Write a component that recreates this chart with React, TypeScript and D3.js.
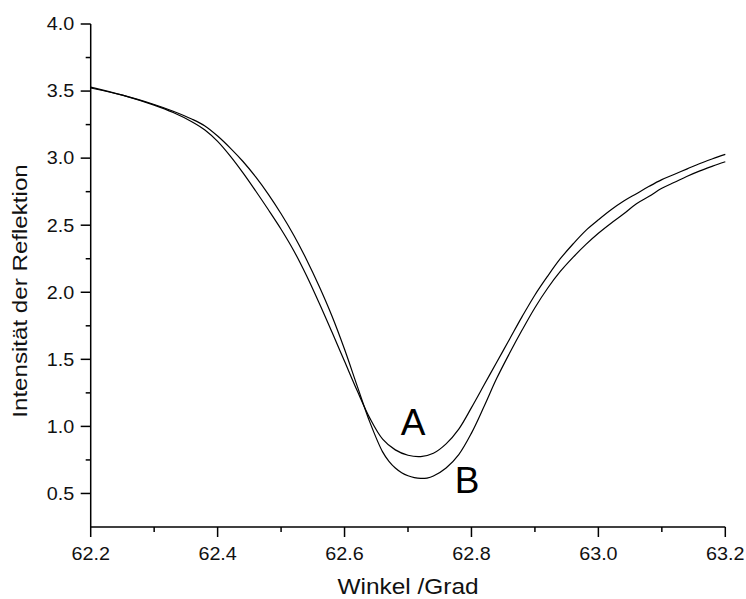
import React from "react";
import * as d3 from "d3";

const angleA = [62.2, 62.25, 62.3, 62.33, 62.36, 62.38, 62.4, 62.42, 62.44, 62.46, 62.48, 62.5, 62.52, 62.54, 62.56, 62.58, 62.6, 62.62, 62.64, 62.66, 62.68, 62.7, 62.72, 62.74, 62.76, 62.78, 62.8, 62.82, 62.84, 62.86, 62.88, 62.9, 62.92, 62.94, 62.96, 62.98, 63.0, 63.02, 63.04, 63.06, 63.08, 63.1, 63.12, 63.14, 63.16, 63.18, 63.2];
const intensityA = [3.53, 3.47, 3.395, 3.34, 3.27, 3.21, 3.125, 3.015, 2.89, 2.755, 2.615, 2.47, 2.31, 2.125, 1.92, 1.705, 1.485, 1.265, 1.06, 0.905, 0.825, 0.785, 0.775, 0.8, 0.87, 0.98, 1.14, 1.31, 1.48, 1.65, 1.82, 1.98, 2.12, 2.25, 2.36, 2.46, 2.54, 2.615, 2.68, 2.735, 2.79, 2.84, 2.88, 2.92, 2.96, 2.995, 3.028];

const angleB = [62.2, 62.25, 62.3, 62.33, 62.36, 62.38, 62.4, 62.42, 62.44, 62.46, 62.48, 62.5, 62.52, 62.54, 62.56, 62.58, 62.6, 62.62, 62.64, 62.66, 62.67, 62.68, 62.69, 62.7, 62.71, 62.72, 62.73, 62.74, 62.76, 62.78, 62.8, 62.82, 62.84, 62.86, 62.88, 62.9, 62.92, 62.94, 62.96, 62.98, 63.0, 63.02, 63.04, 63.06, 63.08, 63.1, 63.12, 63.14, 63.16, 63.18, 63.2];
const intensityB = [3.523, 3.47, 3.4, 3.35, 3.29, 3.24, 3.165, 3.075, 2.975, 2.86, 2.73, 2.585, 2.425, 2.245, 2.045, 1.825, 1.575, 1.3, 1.03, 0.81, 0.74, 0.69, 0.655, 0.632, 0.618, 0.612, 0.615, 0.63, 0.69, 0.79, 0.95, 1.15, 1.36, 1.545, 1.72, 1.885, 2.03, 2.155, 2.26, 2.355, 2.44, 2.515, 2.585, 2.66, 2.715, 2.775, 2.82, 2.865, 2.905, 2.94, 2.973];

const xMajorTicks = [62.2, 62.4, 62.6, 62.8, 63.0, 63.2];
const xMinorTicks = [62.3, 62.5, 62.7, 62.9, 63.1];
const yMajorTicks = [0.5, 1.0, 1.5, 2.0, 2.5, 3.0, 3.5, 4.0];
const yMinorTicks = [0.75, 1.25, 1.75, 2.25, 2.75, 3.25, 3.75];

const labels = [
  { text: "A", x: 62.708, y: 0.935 },
  { text: "B", x: 62.793, y: 0.5 },
];

const W = 746;
const H = 599;
const FONT = "'Liberation Sans', Arial, Helvetica, sans-serif";
const SX = 1.13;

export default function App() {
  const x = d3.scaleLinear().domain([62.2, 63.2]).range([90.7, 725.3]);
  const y = d3.scaleLinear().domain([0.25, 4.0]).range([527, 24]);

  const line = d3
    .line<[number, number]>()
    .x((d) => x(d[0]))
    .y((d) => y(d[1]))
    .curve(d3.curveCatmullRom.alpha(0.5));

  const dA = line(angleA.map((a, i) => [a, intensityA[i]] as [number, number])) || "";
  const dB = line(angleB.map((a, i) => [a, intensityB[i]] as [number, number])) || "";

  const x0 = x(62.2);
  const y0 = y(0.25);

  return (
    <svg
      width={W}
      height={H}
      style={{ position: "absolute", left: 0, top: 0, background: "#fff" }}
      fontFamily={FONT}
    >
      <rect x={0} y={0} width={W} height={H} fill="#fff" />
      <path d={dA} fill="none" stroke="#000" strokeWidth={1.2} />
      <path d={dB} fill="none" stroke="#000" strokeWidth={1.2} />

      {/* Y axis */}
      <line x1={x0} x2={x0} y1={y(4.0)} y2={y0} stroke="#000" strokeWidth={1.5} />
      {yMajorTicks.map((t) => (
        <g key={"ym" + t}>
          <line x1={x0 - 10} x2={x0} y1={y(t)} y2={y(t)} stroke="#000" strokeWidth={1.5} />
          <text
            transform={`translate(${x0 - 16.5}, ${y(t) + 6.3}) scale(${SX},1)`}
            textAnchor="end"
            fontSize={17.5}
            fill="#111"
          >
            {t.toFixed(1)}
          </text>
        </g>
      ))}
      {yMinorTicks.map((t) => (
        <line key={"yn" + t} x1={x0 - 5} x2={x0} y1={y(t)} y2={y(t)} stroke="#000" strokeWidth={1.5} />
      ))}

      {/* X axis */}
      <line x1={x0} x2={x(63.2)} y1={y0} y2={y0} stroke="#000" strokeWidth={1.5} />
      {xMajorTicks.map((t) => (
        <g key={"xm" + t}>
          <line x1={x(t)} x2={x(t)} y1={y0} y2={y0 + 10} stroke="#000" strokeWidth={1.5} />
          <text
            transform={`translate(${x(t)}, 559.5) scale(${SX},1)`}
            textAnchor="middle"
            fontSize={17.5}
            fill="#111"
          >
            {t.toFixed(1)}
          </text>
        </g>
      ))}
      {xMinorTicks.map((t) => (
        <line key={"xn" + t} x1={x(t)} x2={x(t)} y1={y0} y2={y0 + 5} stroke="#000" strokeWidth={1.5} />
      ))}

      {/* Axis titles */}
      <text
        transform={`translate(${(x0 + x(63.2)) / 2}, 594) scale(1.11,1)`}
        textAnchor="middle"
        fontSize={22}
        fill="#111"
      >
        Winkel /Grad
      </text>
      <text
        transform={`translate(26.5, 291) rotate(-90) scale(1.15,1)`}
        textAnchor="middle"
        fontSize={21}
        fill="#111"
      >
        Intensität der Reflektion
      </text>

      {labels.map((l) => (
        <text key={l.text} x={x(l.x)} y={y(l.y)} textAnchor="middle" fontSize={37} fill="#000">
          {l.text}
        </text>
      ))}
    </svg>
  );
}
